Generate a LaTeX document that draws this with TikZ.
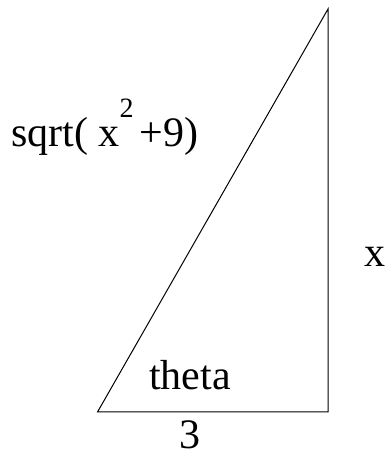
\documentclass[tikz,border=0pt]{standalone}
\usepackage{fontspec}
\setmainfont{Liberation Serif}
\usetikzlibrary{positioning}

\begin{document}
\begin{tikzpicture}[
    x=1pt, y=1pt,
    every node/.style={font=\fontsize{42}{50}\selectfont, inner sep=0pt},
    label/.style={anchor=base west},
    side/.style={draw=black, line width=1pt, line join=miter},
]
\useasboundingbox (0,0) rectangle (387,460);

% =====================================================================
%  Triangle corners
% =====================================================================
\coordinate (A) at (97.5, 48);
\coordinate (B) at (328, 48);
\coordinate (C) at (328, 451);

\draw[side] (A) -- (B) -- (C) -- cycle;

% =====================================================================
%  Labels
% =====================================================================
\node[label] (hyp) at (11, 313)
    {sqrt( x\raisebox{0.7em}{\fontsize{28}{32}\selectfont 2}\kern6pt+9)};
\node[label] (opp) at (364, 193) {x};
\node[label] (ang) at (149, 70) {theta};
\node[label] (adj) at (179, 11.5) {3};

\end{tikzpicture}
\end{document}
